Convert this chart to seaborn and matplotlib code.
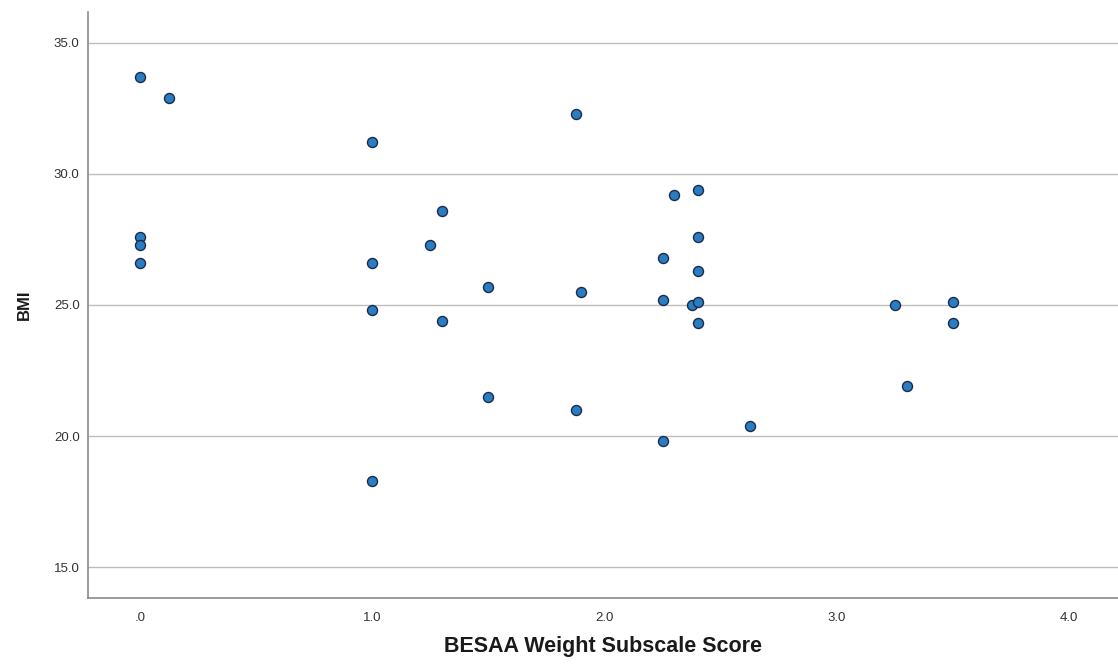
import matplotlib
matplotlib.use("Agg")
import matplotlib.pyplot as plt
import seaborn as sns
import pandas as pd

# BESAA weight subscale score vs. BMI
besaa_weight = [0.0, 0.125, 0.0, 0.0, 0.0,
                1.0, 1.0, 1.0, 1.0, 1.25, 1.3, 1.3, 1.5, 1.5,
                1.875, 1.9, 1.875, 2.25, 2.25, 2.25, 2.3,
                2.4, 2.4, 2.4, 2.375, 2.4, 2.4, 2.625,
                3.25, 3.3, 3.5, 3.5]
bmi = [33.7, 32.9, 27.6, 27.3, 26.6,
       31.2, 26.6, 24.8, 18.3, 27.3, 28.6, 24.4, 25.7, 21.5,
       32.3, 25.5, 21.0, 26.8, 25.2, 19.8, 29.2,
       29.4, 27.6, 26.3, 25.0, 25.1, 24.3, 20.4,
       25.0, 21.9, 25.1, 24.3]

x_ticks = [0.0, 1.0, 2.0, 3.0, 4.0]
x_tick_labels = [".0", "1.0", "2.0", "3.0", "4.0"]
y_ticks = [15.0, 20.0, 25.0, 30.0, 35.0]
y_tick_labels = ["15.0", "20.0", "25.0", "30.0", "35.0"]

df = pd.DataFrame({"BESAA Weight Subscale Score": besaa_weight, "BMI": bmi})

sns.set_theme(style="white")
plt.rcParams["font.family"] = ["Liberation Sans", "DejaVu Sans"]

fig = plt.figure(figsize=(11.18, 6.65), dpi=100)
ax = fig.add_axes([0.0787, 0.1008, 0.9213, 0.8812])

for y in y_ticks:
    ax.axhline(y, color="#bdbdbd", linewidth=1.0, zorder=0)

sns.scatterplot(data=df, x="BESAA Weight Subscale Score", y="BMI", ax=ax,
                s=52, color="#2b7dc2", edgecolor="#1a2a4a", linewidth=1.0,
                zorder=3)

ax.set_xlim(-0.224, 4.21)
ax.set_ylim(13.82, 36.18)
ax.set_xticks(x_ticks)
ax.set_xticklabels(x_tick_labels)
ax.set_yticks(y_ticks)
ax.set_yticklabels(y_tick_labels)
ax.tick_params(axis="both", length=0, labelsize=9.5, colors="#333333")
ax.tick_params(axis="x", pad=10)
ax.tick_params(axis="y", pad=6)

for side in ["top", "right"]:
    ax.spines[side].set_visible(False)
for side in ["left", "bottom"]:
    ax.spines[side].set_color("#8a8a8a")
    ax.spines[side].set_linewidth(1.2)

ax.set_xlabel("BESAA Weight Subscale Score", fontsize=15.5, fontweight="bold",
              color="#1a1a1a", labelpad=9)
ax.set_ylabel("BMI", fontsize=12, fontweight="bold", color="#1a1a1a",
              labelpad=16)

fig.savefig("out.png", dpi=100)
